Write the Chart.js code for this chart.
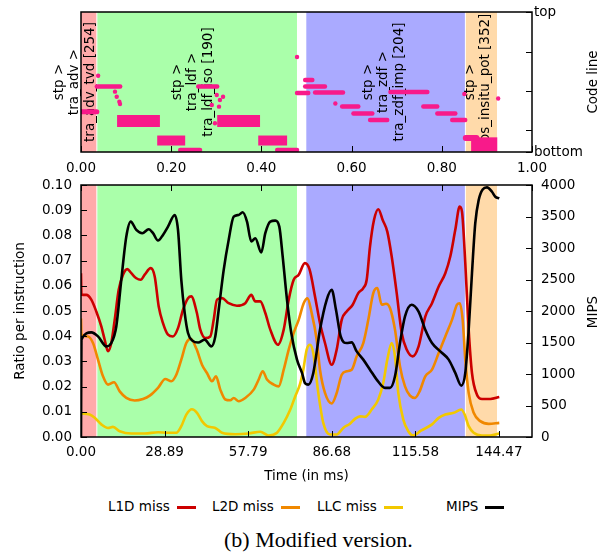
<!DOCTYPE html>
<html>
<head>
<meta charset="utf-8">
<script src="https://cdn.jsdelivr.net/npm/chart.js@4.4.1/dist/chart.umd.min.js"></script>
<style>
  body { margin: 0; background: #fff; }
  #fig { position: relative; width: 611px; height: 554px; font-family: 'DejaVu Sans', sans-serif; font-size: 13.5px; color: #000; overflow: hidden; }
  .box { position: absolute; left: 0; width: 611px; }
  .vtitle { position: absolute; transform: translate(-50%, -50%) rotate(-90deg); white-space: nowrap; }
  .leg { position: absolute; top: 498px; white-space: nowrap; line-height: 17px; }
  .leg i { display: inline-block; width: 19px; height: 3px; margin-left: 7px; vertical-align: middle; }
  #caption { position: absolute; left: 224px; top: 527px; font-family: 'Liberation Serif', 'Times New Roman', serif; font-size: 22px; line-height: 26px; white-space: nowrap; }
</style>
</head>
<body>
<div id="fig">
  <div class="box" style="top:0;height:175px"><canvas id="codeChart"></canvas></div>
  <div class="box" style="top:175px;height:320px"><canvas id="perfChart"></canvas></div>
  <div class="vtitle" style="left:592px;top:82px">Code line</div>
  <div class="vtitle" style="left:592px;top:312px">MIPS</div>
  <div id="legend"></div>
  <div id="caption">(b) Modified version.</div>
</div>
<script>
// Time axis (ms)
const timeAxisMax = 155.9;
const timeTicks = [0, 28.89, 57.79, 86.68, 115.58, 144.47];
const codeTimeTicks = [0, 0.2, 0.4, 0.6, 0.8, 1.0];
const codeLineTicks = [0, 0.157, 0.436, 0.714, 1];
const ratioTicks = [0, 0.01, 0.02, 0.03, 0.04, 0.05, 0.06, 0.07, 0.08, 0.09, 0.10];
const mipsTicks = [0, 500, 1000, 1500, 2000, 2500, 3000, 3500, 4000];

// Phases of the run (ms)
const phaseStart = [0, 5.65, 77.88, 133.05];
const phaseEnd = [5.3, 74.66, 132.7, 143.8];
const phaseLabelAt = [-2.1, 38.7, 104.7, 137.2];
const phaseLabel = [
    ['stp >', 'tra_adv >', 'tra_adv_tvd [254]'],
    ['stp >', 'tra_ldf >', 'tra_ldf_iso [190]'],
    ['stp >', 'tra_zdf >', 'tra_zdf_imp [204]'],
    ['stp >', 'eos_insitu_pot [352]']
];
const phaseColor = ['#ffaaaa', '#aaffaa', '#aaaaff', '#ffdaaa'];

// Code line samples (normalized time, normalized line)
const bandStart = [0.000, 0.035, 0.080, 0.169, 0.220, 0.260, 0.302, 0.393, 0.435, 0.479, 0.497, 0.497, 0.519, 0.579, 0.604, 0.641, 0.686, 0.759, 0.790, 0.823, 0.853, 0.865];
const bandEnd = [0.035, 0.087, 0.175, 0.231, 0.264, 0.302, 0.397, 0.457, 0.479, 0.504, 0.513, 0.541, 0.581, 0.615, 0.646, 0.679, 0.768, 0.790, 0.830, 0.852, 0.877, 0.923];
const bandLevel = [0.288, 0.468, 0.221, 0.082, 0.014, 0.468, 0.221, 0.082, 0.014, 0.421, 0.514, 0.468, 0.425, 0.325, 0.275, 0.229, 0.429, 0.325, 0.275, 0.229, 0.100, 0.054];
const bandSpread = [0.015, 0.01, 0.065, 0.05, 0.01, 0.01, 0.065, 0.05, 0.01, 0.01, 0.01, 0.01, 0.01, 0.01, 0.01, 0.01, 0.01, 0.01, 0.01, 0.01, 0.02, 0.08];
const dotX = [0.038, 0.0754, 0.0792, 0.085, 0.0865, 0.290, 0.297, 0.301, 0.306, 0.308, 0.315, 0.479, 0.564, 0.850, 0.925];
const dotY = [0.545, 0.431, 0.395, 0.359, 0.343, 0.336, 0.205, 0.407, 0.324, 0.371, 0.395, 0.679, 0.346, 0.414, 0.382];

// Series
const mipsTime = [0, 0.15, 3.56, 5.88, 8.75, 10.47, 12.2, 13.93, 15.66, 17.18, 19.12, 21.19, 23.4, 24.89, 26.62, 28.34, 30.07, 32.39, 33.53, 34.67, 35.85, 36.99, 38.5, 40.5, 42.76, 45.04, 46.42, 47.6, 49.33, 51.05, 52.78, 54.51, 55.89, 57.38, 58.87, 60.25, 62.32, 63.71, 65.43, 67.16, 68.55, 69.72, 71.21, 72.69, 74.66, 76.39, 77.5, 78.57, 80.3, 82.61, 84.93, 86.66, 88.14, 89.77, 91.84, 93.57, 95.3, 97.58, 99.9, 102.21, 105.08, 106.81, 108.54, 110.27, 112.0, 114.31, 116.7, 119.01, 121.33, 124.2, 127.1, 129.38, 131.46, 132.84, 134.01, 135.15, 136.29, 137.47, 138.85, 140.34, 142.07, 143.21, 144.59];
const mipsValue = [0, 1545, 1660, 1597, 1438, 1492, 1755, 2495, 3181, 3419, 3287, 3235, 3298, 3235, 3118, 3208, 3339, 3525, 3287, 2495, 1967, 1650, 1530, 1500, 1545, 1438, 1597, 2020, 2653, 3129, 3497, 3525, 3567, 3419, 3102, 3155, 2928, 3235, 3419, 3435, 3339, 2864, 2178, 1650, 1228, 1017, 850, 832, 1017, 1703, 2178, 2337, 2020, 1597, 1492, 1502, 1359, 1228, 1069, 911, 779, 779, 963, 1492, 1914, 2099, 1990, 1703, 1492, 1359, 1228, 1017, 816, 1017, 1703, 2600, 3393, 3762, 3930, 3962, 3893, 3814, 3789];

const l1dTime = [0, 0.15, 1.83, 3.56, 5.29, 7.02, 8.19, 9.33, 10.47, 11.65, 13.03, 14.52, 16.0, 17.39, 19.12, 20.64, 22.02, 24.09, 25.48, 26.86, 28.34, 30.07, 31.8, 33.53, 35.26, 36.99, 38.13, 40.0, 41.24, 42.97, 44.69, 45.87, 47.01, 48.74, 51.05, 53.92, 56.79, 58.87, 60.25, 61.98, 63.71, 65.43, 68.1, 70.07, 71.8, 73.52, 75.25, 77.4, 79.0, 80.89, 82.61, 84.34, 86.66, 88.39, 90.12, 91.84, 93.92, 95.85, 97.58, 98.76, 99.9, 101.28, 102.77, 104.29, 105.88, 107.4, 109.13, 110.86, 112.58, 114.66, 116.7, 119.01, 121.33, 123.64, 125.93, 127.65, 129.38, 130.9, 131.7, 132.84, 134.01, 135.15, 136.88, 138.61, 141.48, 144.59];
const l1dValue = [0.065, 0.0565, 0.0564, 0.0545, 0.0498, 0.0439, 0.0386, 0.034, 0.0373, 0.0465, 0.0584, 0.0644, 0.0666, 0.065, 0.063, 0.0624, 0.0644, 0.067, 0.0637, 0.0518, 0.0452, 0.0406, 0.0399, 0.0432, 0.0505, 0.0551, 0.0558, 0.0495, 0.0426, 0.0393, 0.0399, 0.0465, 0.0545, 0.0551, 0.0531, 0.0521, 0.0531, 0.0564, 0.0538, 0.0538, 0.0492, 0.0426, 0.0366, 0.0426, 0.0545, 0.0624, 0.0644, 0.069, 0.0665, 0.0558, 0.0452, 0.0373, 0.0287, 0.0347, 0.0465, 0.0498, 0.0525, 0.0571, 0.0591, 0.0624, 0.0756, 0.0861, 0.0904, 0.0861, 0.0815, 0.0716, 0.0571, 0.0413, 0.0347, 0.032, 0.036, 0.0478, 0.0531, 0.0597, 0.065, 0.0716, 0.0822, 0.0914, 0.0894, 0.069, 0.0426, 0.0254, 0.0168, 0.0151, 0.0151, 0.0159];

const l2dTime = [0, 0.15, 2.42, 4.15, 5.88, 7.6, 9.33, 11.41, 13.38, 15.66, 18.56, 21.43, 23.75, 26.62, 29.14, 31.21, 32.94, 34.67, 36.4, 37.9, 39.9, 41.82, 43.55, 45.28, 46.66, 48.15, 49.88, 51.61, 52.78, 54.51, 56.79, 59.7, 61.42, 62.81, 64.29, 66.61, 68.34, 70.07, 71.8, 73.52, 75.25, 76.98, 78.3, 79.74, 81.47, 82.61, 84.34, 86.66, 88.39, 90.12, 91.84, 93.57, 95.3, 97.58, 99.31, 101.04, 102.42, 103.94, 105.43, 106.81, 108.54, 110.27, 112.0, 113.72, 115.45, 117.0, 119.01, 121.33, 123.64, 125.93, 128.24, 129.97, 130.9, 131.94, 132.84, 134.01, 135.74, 138.02, 140.93, 144.59];
const l2dValue = [0.047, 0.0406, 0.0399, 0.0373, 0.0307, 0.0241, 0.0208, 0.0217, 0.0181, 0.0155, 0.0145, 0.0151, 0.0164, 0.0195, 0.023, 0.0221, 0.0247, 0.0307, 0.0373, 0.039, 0.035, 0.0287, 0.0254, 0.0221, 0.0241, 0.0188, 0.0149, 0.0146, 0.0155, 0.0142, 0.0155, 0.0188, 0.0228, 0.0261, 0.0228, 0.0208, 0.0201, 0.0267, 0.0347, 0.0413, 0.0465, 0.0531, 0.055, 0.0492, 0.0386, 0.0267, 0.0175, 0.0133, 0.0175, 0.0247, 0.0261, 0.0267, 0.032, 0.0373, 0.0465, 0.0571, 0.0591, 0.0525, 0.0529, 0.0512, 0.0426, 0.028, 0.0201, 0.0164, 0.0155, 0.018, 0.0241, 0.0267, 0.0333, 0.0399, 0.0465, 0.0525, 0.0531, 0.0465, 0.0307, 0.0175, 0.0096, 0.0063, 0.0052, 0.0056];

const llcTime = [0, 3.01, 4.74, 7.02, 9.33, 11.06, 13.38, 17.39, 22.02, 26.62, 30.07, 32.94, 34.67, 36.4, 38.37, 40.1, 41.82, 43.55, 46.42, 48.74, 53.34, 57.97, 61.98, 64.88, 67.75, 70.07, 72.35, 74.07, 75.7, 76.84, 78.02, 79.16, 80.3, 82.03, 83.75, 86.07, 88.39, 90.66, 92.98, 94.71, 96.44, 98.17, 100.48, 102.77, 104.49, 105.88, 107.4, 108.54, 109.68, 111.41, 113.14, 114.86, 117.5, 121.33, 123.64, 125.93, 128.83, 131.46, 132.63, 134.01, 135.74, 138.61, 141.48, 144.59];
const llcValue = [0.0093, 0.0089, 0.0076, 0.005, 0.0036, 0.004, 0.0023, 0.0014, 0.0014, 0.0019, 0.0017, 0.0017, 0.0043, 0.0089, 0.011, 0.0096, 0.0063, 0.0043, 0.0036, 0.0017, 0.0011, 0.0014, 0.0021, 0.0006, 0.0017, 0.0056, 0.0109, 0.0162, 0.021, 0.0267, 0.0347, 0.0366, 0.0333, 0.0175, 0.0056, 0.001, 0.001, 0.0036, 0.0053, 0.0072, 0.0082, 0.008, 0.0109, 0.0149, 0.0215, 0.0307, 0.0373, 0.032, 0.0175, 0.0069, 0.0023, 0.0006, 0.0025, 0.005, 0.0076, 0.0089, 0.0096, 0.0109, 0.0089, 0.0043, 0.0017, 0.0006, 0.0006, 0.0014];

const pink = '#f81a8a';
const pts = (xs, ys) => xs.map((x, i) => ({x: x, y: ys[i]}));
const setTicks = arr => scale => { scale.ticks = arr.map(v => ({value: v})); };
const fixBox = (w, h) => scale => {
    if (w !== null) scale.width = w;
    if (h !== null) scale.height = h;
    scale.paddingLeft = 0; scale.paddingRight = 0;
    scale.paddingTop = 0; scale.paddingBottom = 0;
};

Chart.defaults.font.family = "'DejaVu Sans', sans-serif";
Chart.defaults.font.size = 13.5;
Chart.defaults.color = '#000';

// Shaded phases (+ labels on the code line panel)
const phaseShading = {
    id: 'phaseShading',
    beforeDatasetsDraw(chart, args, opts) {
        const {ctx, chartArea: a} = chart;
        const xs = chart.scales.x;
        ctx.save();
        phaseStart.forEach((s, i) => {
            const x0 = xs.getPixelForValue(s * opts.scale);
            const x1 = xs.getPixelForValue(phaseEnd[i] * opts.scale);
            ctx.fillStyle = phaseColor[i];
            ctx.fillRect(x0, a.top, x1 - x0, a.bottom - a.top);
        });
        if (opts.labels) {
            ctx.fillStyle = '#000';
            ctx.font = "13.5px 'DejaVu Sans'";
            ctx.textAlign = 'center';
            ctx.textBaseline = 'middle';
            const yMid = (a.top + a.bottom) / 2;
            phaseLabel.forEach((lines, i) => {
                const x = xs.getPixelForValue(phaseLabelAt[i] * opts.scale);
                ctx.save();
                ctx.translate(x, yMid);
                ctx.rotate(-Math.PI / 2);
                lines.forEach((txt, j) => ctx.fillText(txt, 0, (j - (lines.length - 1) / 2) * 15.5));
                ctx.restore();
            });
        }
        ctx.restore();
    }
};

// Inward tick marks and the frame
const innerTicks = {
    id: 'innerTicks',
    afterDatasetsDraw(chart) {
        const {ctx, chartArea: a} = chart;
        const len = 6;
        ctx.save();
        ctx.strokeStyle = '#000';
        ctx.lineWidth = 1;
        Object.values(chart.scales).forEach(s => {
            const pos = s.options.position;
            s.ticks.forEach((t, i) => {
                const p = Math.round(s.getPixelForTick(i)) + 0.5;
                ctx.beginPath();
                if (pos === 'bottom') { ctx.moveTo(p, a.bottom); ctx.lineTo(p, a.bottom - len); }
                else if (pos === 'top') { ctx.moveTo(p, a.top); ctx.lineTo(p, a.top + len); }
                else if (pos === 'left') { ctx.moveTo(a.left, p); ctx.lineTo(a.left + len, p); }
                else { ctx.moveTo(a.right, p); ctx.lineTo(a.right - len, p); }
                ctx.stroke();
            });
        });
        ctx.lineWidth = 1.5;
        ctx.strokeRect(a.left, a.top, a.right - a.left, a.bottom - a.top);
        ctx.restore();
    }
};

function bandWidth(chart, spread) {
    const y = chart.scales.y;
    return Math.abs(y.getPixelForValue(spread) - y.getPixelForValue(0)) + 3;
}

const bandSets = bandStart.map((s, i) => ({
    type: 'line',
    data: [{x: s, y: bandLevel[i]}, {x: bandEnd[i], y: bandLevel[i]}],
    borderColor: pink,
    borderWidth: c => bandWidth(c.chart, bandSpread[i]),
    borderCapStyle: bandSpread[i] > 0.03 ? 'butt' : 'round',
    pointRadius: 0,
    showLine: true
}));

new Chart(document.getElementById('codeChart'), {
    type: 'scatter',
    data: {
        datasets: bandSets.concat([{
            data: pts(dotX, dotY),
            backgroundColor: pink,
            borderWidth: 0,
            pointRadius: 2.2
        }])
    },
    options: {
        responsive: true,
        maintainAspectRatio: false,
        animation: false,
        layout: { padding: { left: 81, top: 12, right: 0, bottom: 0 } },
        plugins: {
            legend: { display: false },
            tooltip: { enabled: false },
            phaseShading: { scale: 1 / timeAxisMax, labels: true }
        },
        scales: {
            x: {
                type: 'linear', min: 0, max: 1,
                grid: { display: false, drawTicks: false },
                border: { display: false },
                afterBuildTicks: setTicks(codeTimeTicks),
                afterFit: fixBox(null, 23),
                ticks: { padding: 8, maxRotation: 0, autoSkip: false, callback: v => v.toFixed(2) }
            },
            y: {
                position: 'right', min: 0, max: 1,
                grid: { display: false, drawTicks: false },
                border: { display: false },
                afterBuildTicks: setTicks(codeLineTicks),
                afterFit: fixBox(79, null),
                ticks: { padding: 2, autoSkip: false, callback: v => v === 1 ? 'top' : (v === 0 ? 'bottom' : '') }
            }
        }
    },
    plugins: [phaseShading, innerTicks]
});

const series = [
    { label: 'L1D miss', t: l1dTime, v: l1dValue, color: '#cc0000', axis: 'y', order: 1 },
    { label: 'L2D miss', t: l2dTime, v: l2dValue, color: '#f08800', axis: 'y', order: 2 },
    { label: 'LLC miss', t: llcTime, v: llcValue, color: '#f2c800', axis: 'y', order: 3 },
    { label: 'MIPS', t: mipsTime, v: mipsValue, color: '#000000', axis: 'y1', order: 0 }
];

new Chart(document.getElementById('perfChart'), {
    type: 'line',
    data: {
        datasets: series.map(s => ({
            label: s.label,
            data: pts(s.t, s.v),
            xAxisID: 'x',
            yAxisID: s.axis,
            borderColor: s.color,
            borderWidth: 2.6,
            pointRadius: 0,
            fill: false,
            cubicInterpolationMode: 'monotone',
            order: s.order
        }))
    },
    options: {
        responsive: true,
        maintainAspectRatio: false,
        animation: false,
        plugins: {
            legend: { display: false },
            tooltip: { enabled: false },
            phaseShading: { scale: 1, labels: false }
        },
        scales: {
            x: {
                type: 'linear', position: 'bottom', min: 0, max: timeAxisMax,
                grid: { display: false, drawTicks: false },
                border: { display: false },
                afterBuildTicks: setTicks(timeTicks),
                afterFit: fixBox(null, 58),
                ticks: { padding: 7.5, maxRotation: 0, autoSkip: false, callback: v => v.toFixed(2) },
                title: { display: true, text: 'Time (in ms)', padding: { top: 0, bottom: 10 } }
            },
            xTop: {
                type: 'linear', position: 'top', min: 0, max: 1,
                grid: { display: false, drawTicks: false },
                border: { display: false },
                afterBuildTicks: setTicks(codeTimeTicks),
                afterFit: fixBox(null, 10),
                ticks: { display: false }
            },
            y: {
                position: 'left', min: 0, max: 0.1,
                grid: { display: false, drawTicks: false },
                border: { display: false },
                afterBuildTicks: setTicks(ratioTicks),
                afterFit: fixBox(81, null),
                ticks: { padding: 9, autoSkip: false, callback: v => v.toFixed(2) },
                title: { display: true, text: 'Ratio per instruction', padding: { top: 12, bottom: 0 } }
            },
            y1: {
                position: 'right', min: 0, max: 4000,
                grid: { display: false, drawTicks: false },
                border: { display: false },
                afterBuildTicks: setTicks(mipsTicks),
                afterFit: fixBox(79, null),
                ticks: { padding: 9, autoSkip: false, callback: v => String(v) }
            }
        }
    },
    plugins: [phaseShading, innerTicks]
});

// Legend: name first, then the line sample
const legendLeft = [108, 212, 317, 446];
document.getElementById('legend').innerHTML = series.map((s, i) =>
    '<div class="leg" style="left:' + legendLeft[i] + 'px">' + s.label +
    '<i style="background:' + s.color + '"></i></div>').join('');
</script>
</body>
</html>
